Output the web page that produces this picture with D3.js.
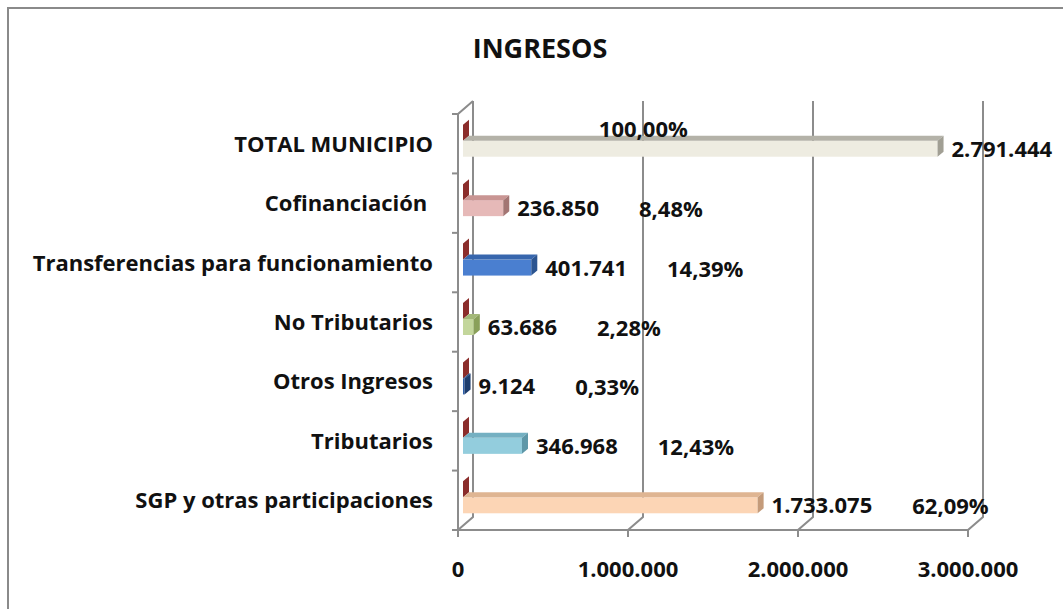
<!DOCTYPE html>
<html>
<head>
<meta charset="utf-8">
<script src="https://cdn.jsdelivr.net/npm/d3@7"></script>
<style>
  body { margin: 0; background: #fff; }
  svg text { font-family: "Open Sans", sans-serif; font-weight: bold; fill: #111; }
</style>
</head>
<body>
<svg id="chart"></svg>
<script>
// datos del grafico
const categorias = ["TOTAL MUNICIPIO", "Cofinanciación ", "Transferencias para funcionamiento",
  "No Tributarios", "Otros Ingresos", "Tributarios", "SGP y otras participaciones"];
const valores = [2791444, 236850, 401741, 63686, 9124, 346968, 1733075];
const porcentajes = [100.00, 8.48, 14.39, 2.28, 0.33, 12.43, 62.09];
const ticksX = [0, 1000000, 2000000, 3000000];

// colores de cada barra: [frente, techo, tapa]
const coloresBarra = [
  ["#eeece1", "#b4b2a8", "#a19f94"],
  ["#e6b9b8", "#c99593", "#a37573"],
  ["#4a7fd0", "#3766ad", "#2b5490"],
  ["#c3d69b", "#a3b878", "#8aa05a"],
  ["#2f5fa8", "#244b86", "#1d3d6e"],
  ["#93cddd", "#74b0c2", "#5e97a8"],
  ["#fcd5b5", "#dfb592", "#c49b7a"]
];
const coloresPct = ["#c0504d", "#a33b38", "#8b2d2b"];

const width = 1063, height = 609;
const svg = d3.select("#chart")
  .attr("width", width)
  .attr("height", height)
  .attr("viewBox", `0 0 ${width} ${height}`);

// marco exterior
svg.append("rect")
  .attr("x", 8).attr("y", 8)
  .attr("width", 1100).attr("height", 700)
  .attr("fill", "none").attr("stroke", "#8a8a8a").attr("stroke-width", 2);

svg.append("text")
  .attr("x", 540).attr("y", 58)
  .attr("text-anchor", "middle")
  .style("font-size", "27px")
  .text("INGRESOS");

const x0 = 458, yTop = 114, yBottom = 530;
const depth = { dx: 15, dy: -13 };

const xScale = d3.scaleLinear().domain([0, 3000000]).range([0, 510]);
const yScale = d3.scaleBand().domain(categorias).range([yTop, yBottom]);

const gridColor = "#8c8c8c";
const grid = svg.append("g")
  .attr("fill", "none").attr("stroke", gridColor).attr("stroke-width", 2);

// pared lateral
grid.append("path")
  .attr("d", `M${x0},${yBottom}V${yTop}L${x0 + depth.dx},${yTop + depth.dy}`);

// lineas de division en la pared del fondo
ticksX.forEach(t => {
  const xf = x0 + xScale(t), xb = xf + depth.dx;
  grid.append("path")
    .attr("d", `M${xb},${yTop + depth.dy}V${yBottom + depth.dy}L${xf},${yBottom}V${yBottom + 7}`);
});

// piso y marcas del eje vertical
grid.append("line")
  .attr("x1", x0 - 6).attr("x2", x0 + xScale(3000000))
  .attr("y1", yBottom).attr("y2", yBottom);

const bordes = categorias.map(c => yScale(c)).concat([yBottom]);
grid.selectAll(".ytick")
  .data(bordes)
  .enter()
  .append("line")
  .attr("x1", x0 - 6).attr("x2", x0)
  .attr("y1", d => d).attr("y2", d => d);

// barras 3d
const barX = x0 + 5;
const barH = 16;
const bd = { dx: 6, dy: -5 };

function bar3d(g, yFace, val, cols) {
  const xe = barX + xScale(val);
  const yb = yFace + barH;
  g.append("rect")
    .attr("x", barX).attr("y", yFace)
    .attr("width", xe - barX).attr("height", barH)
    .attr("fill", cols[0]);
  g.append("path")
    .attr("d", `M${barX},${yFace}L${xe},${yFace}L${xe + bd.dx},${yFace + bd.dy}L${barX + bd.dx},${yFace + bd.dy}Z`)
    .attr("fill", cols[1]);
  g.append("path")
    .attr("d", `M${xe},${yFace}L${xe},${yb}L${xe + bd.dx},${yb + bd.dy}L${xe + bd.dx},${yFace + bd.dy}Z`)
    .attr("fill", cols[2]);
  return xe;
}

const barras = svg.append("g");
const etiquetas = svg.append("g").style("font-size", "22px");

categorias.forEach((cat, i) => {
  const c = yScale(cat) + yScale.bandwidth() / 2 - 3;
  const g = barras.append("g");
  bar3d(g, c - barH, porcentajes[i] / 100, coloresPct);
  const xe = bar3d(g, c, valores[i], coloresBarra[i]);

  const lv = etiquetas.append("text")
    .attr("x", xe + 14)
    .attr("y", c + barH / 2 + 8)
    .text(d3.format(",")(valores[i]).replace(/,/g, "."));

  const pct = porcentajes[i].toFixed(2).replace(".", ",") + "%";
  const endLabel = xe + 14 + lv.node().getComputedTextLength();
  if (endLabel > width - 60 && i === 0) {
    // la etiqueta del total va encima de la barra
    etiquetas.append("text")
      .attr("x", barX + xScale(valores[i] * 0.38))
      .attr("y", c - 4)
      .attr("text-anchor", "middle")
      .text(pct);
  } else {
    etiquetas.append("text")
      .attr("x", endLabel + 40)
      .attr("y", c + barH / 2 + 9)
      .text(pct);
  }
});

// etiquetas de categoria
svg.append("g")
  .style("font-size", "22px")
  .selectAll("text")
  .data(categorias)
  .enter()
  .append("text")
  .attr("x", 433)
  .attr("y", d => yScale(d) + yScale.bandwidth() / 2 + 8)
  .attr("text-anchor", "end")
  .style("white-space", "pre")
  .text(d => d);

// etiquetas del eje x
svg.append("g")
  .style("font-size", "22px")
  .selectAll("text")
  .data(ticksX)
  .enter()
  .append("text")
  .attr("x", d => x0 + xScale(d))
  .attr("y", 577)
  .attr("text-anchor", "middle")
  .text(d => d3.format(",")(d).replace(/,/g, "."));
</script>
</body>
</html>
